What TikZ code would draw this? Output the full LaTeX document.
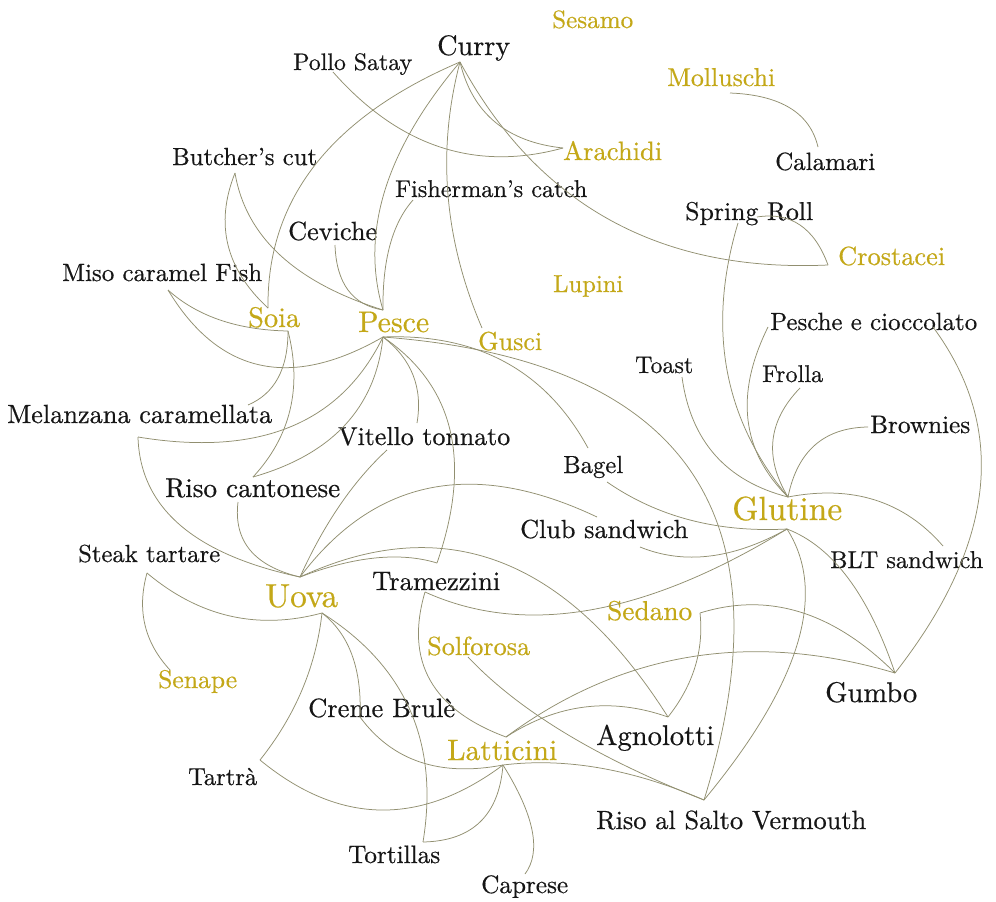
\documentclass[tikz,border=0pt]{standalone}
\usepackage{fontspec}
\setmainfont{Latin Modern Roman}[FakeBold=0.5]
\usepackage{graphicx}
\usetikzlibrary{calc}
\definecolor{edgecol}{RGB}{145,143,112}
\definecolor{goldc}{RGB}{196,168,24}
\definecolor{inkc}{RGB}{22,22,22}
\newcommand\lab[5]{\node[#1] (#2) at (#3) {\resizebox{#4pt}{!}{#5}};}
\newcommand\cedge[3]{\draw[edge] (#1) .. controls ($1.3333*(#3)-0.3333*(#2)$) and ($1.3333*(#3)-0.3333*(#1)$) .. (#2);}
\begin{document}
\begin{tikzpicture}[x=1pt,y=-1pt,
  ink/.style={text=inkc, inner sep=0pt, anchor=base west},
  gold/.style={text=goldc, inner sep=0pt, anchor=base west},
  edge/.style={draw=edgecol, line width=0.75pt}]
\useasboundingbox (0,0) rectangle (996,902);
\fill[white] (0,0) rectangle (996,902);

% labels
\lab{gold}{sesamoL}{552,28}{81}{Sesamo}
\lab{ink}{curryL}{437,55}{73}{Curry}
\lab{ink}{polloL}{293,70}{119}{Pollo Satay}
\lab{gold}{mollL}{667,86}{108}{Molluschi}
\lab{gold}{arachL}{563,160}{99}{Arachidi}
\lab{ink}{calamL}{775,170}{100}{Calamari}
\lab{ink}{butchL}{172,165}{145}{Butcher's cut}
\lab{ink}{fishL}{395,197}{192}{Fisherman's catch}
\lab{ink}{springL_}{685,220}{128}{Spring Roll}
\lab{gold}{crostL}{838,265}{107}{Crostacei}
\lab{ink}{ceviL}{288,240}{89}{Ceviche}
\lab{ink}{misoL}{62,281}{200}{Miso caramel Fish}
\lab{gold}{lupiniL}{553,292}{70}{Lupini}
\lab{gold}{soiaL}{248,327}{52}{Soia}
\lab{gold}{pesceL}{358,332}{71}{Pesce}
\lab{gold}{gusciL}{478,350}{64}{Gusci}
\lab{ink}{pescheL_}{770,330}{207}{Pesche e cioccolato}
\lab{ink}{toastL}{635,373}{58}{Toast}
\lab{ink}{frollaL}{762,382}{61}{Frolla}
\lab{ink}{brownL}{870,433}{100}{Brownies}
\lab{ink}{melL}{7,423}{265}{Melanzana caramellata}
\lab{ink}{vitL}{338,445}{172}{Vitello tonnato}
\lab{ink}{bagelL}{563,473}{60}{Bagel}
\lab{ink}{risoL}{165,497}{175}{Riso cantonese}
\lab{gold}{glutL}{732,520}{110}{Glutine}
\lab{ink}{clubL}{520,538}{168}{Club sandwich}
\lab{ink}{bltL}{830,568}{153}{BLT sandwich}
\lab{ink}{steakL}{78,562}{142}{Steak tartare}
\lab{gold}{uovaL}{265,607}{73}{Uova}
\lab{ink}{tramL}{372,590}{128}{Tramezzini}
\lab{gold}{sedanoL}{607,620}{85}{Sedano}
\lab{gold}{solfL}{427,655}{103}{Solforosa}
\lab{gold}{senapeL}{158,688}{79}{Senape}
\lab{ink}{gumboL}{825,702}{92}{Gumbo}
\lab{ink}{cremeL}{308,717}{147}{Creme Brulè}
\lab{ink}{agnoL}{596,745}{118}{Agnolotti}
\lab{gold}{lattL}{447,760}{110}{Latticini}
\lab{ink}{tartraL}{188,785}{69}{Tartrà}
\lab{ink}{risoSL}{596,829}{270}{Riso al Salto Vermouth}
\lab{ink}{tortL}{348,863}{92}{Tortillas}
\lab{ink}{capreseL}{481,893}{87}{Caprese}

% anchor points
\coordinate (curry) at (460,62);
\coordinate (pollo) at (333,72);
\coordinate (arach) at (563,148);
\coordinate (moll) at (730,93);
\coordinate (calam) at (818,147);
\coordinate (butch) at (235,173);
\coordinate (fish) at (413,200);
\coordinate (springR) at (757,217);
\coordinate (springL) at (738,223);
\coordinate (crost) at (828,265);
\coordinate (cevi) at (335,245);
\coordinate (miso) at (168,290);
\coordinate (soiaT) at (268,308);
\coordinate (soiaB) at (288,331);
\coordinate (pesceT) at (383,310);
\coordinate (pesceB) at (383,337);
\coordinate (gusci) at (482,328);
\coordinate (pescheL) at (768,327);
\coordinate (pescheR) at (933,327);
\coordinate (toast) at (682,377);
\coordinate (frolla) at (800,388);
\coordinate (brown) at (868,427);
\coordinate (melR) at (248,405);
\coordinate (melB) at (138,437);
\coordinate (vitT) at (417,423);
\coordinate (vitB) at (387,450);
\coordinate (bagel) at (588,448);
\coordinate (bagelB) at (607,482);
\coordinate (risoT) at (253,477);
\coordinate (risoB) at (238,502);
\coordinate (glutT) at (788,497);
\coordinate (glutB) at (787,529);
\coordinate (clubT) at (597,517);
\coordinate (clubB) at (640,547);
\coordinate (bltR) at (943,546);
\coordinate (steak) at (147,573);
\coordinate (uovaT) at (300,577);
\coordinate (uovaB) at (322,613);
\coordinate (tramT) at (437,563);
\coordinate (tramB) at (425,592);
\coordinate (sedano) at (700,613);
\coordinate (solf) at (468,657);
\coordinate (senape) at (170,670);
\coordinate (gumbo) at (895,673);
\coordinate (creme) at (360,717);
\coordinate (agno) at (668,717);
\coordinate (lattT) at (506,737);
\coordinate (lattB) at (503,765);
\coordinate (tartra) at (260,760);
\coordinate (risoS) at (704,800);
\coordinate (tort) at (423,842);
\coordinate (caprese) at (525,874);

% connectors
\cedge{curry}{arach}{495,122}
\cedge{curry}{crost}{610,220}
\cedge{pollo}{arach}{440,147}
\cedge{curry}{soiaT}{315,165}
\cedge{curry}{pesceT}{385,190}
\cedge{curry}{gusci}{448,195}
\cedge{butch}{soiaT}{228,245}
\cedge{butch}{pesceT}{280,255}
\cedge{cevi}{pesceT}{348,290}
\cedge{fish}{pesceT}{390,245}
\cedge{moll}{calam}{790,108}
\cedge{springR}{crost}{800,225}
\cedge{springL}{glutT}{727,370}
\cedge{pescheL}{glutT}{748,420}
\cedge{toast}{glutT}{715,455}
\cedge{frolla}{glutT}{773,440}
\cedge{brown}{glutT}{815,445}
\cedge{glutT}{bltR}{875,500}
\cedge{pescheR}{gumbo}{980,490}
\cedge{glutB}{gumbo}{848,578}
\cedge{sedano}{gumbo}{800,612}
\cedge{lattT}{gumbo}{690,657}
\cedge{sedano}{agno}{695,667}
\cedge{lattT}{agno}{585,707}
\cedge{uovaT}{agno}{500,562}
\cedge{uovaT}{tramT}{375,558}
\cedge{pesceB}{tramT}{450,430}
\cedge{tramB}{glutB}{590,610}
\cedge{tramB}{lattT}{430,680}
\cedge{solf}{risoS}{565,733}
\cedge{lattB}{risoS}{600,768}
\cedge{glutB}{risoS}{797,645}
\cedge{pesceB}{risoS}{690,470}
\cedge{pesceB}{bagel}{505,362}
\cedge{bagelB}{glutB}{690,520}
\cedge{uovaT}{clubT}{430,488}
\cedge{clubB}{glutB}{710,556}
\cedge{vitB}{uovaT}{340,505}
\cedge{pesceB}{vitT}{413,375}
\cedge{pesceB}{risoT}{345,425}
\cedge{soiaB}{risoT}{290,410}
\cedge{soiaB}{melR}{278,378}
\cedge{pesceB}{melB}{290,427}
\cedge{melB}{uovaT}{180,525}
\cedge{risoB}{uovaT}{250,550}
\cedge{miso}{soiaB}{220,320}
\cedge{miso}{pesceB}{260,365}
\cedge{steak}{uovaB}{230,616}
\cedge{steak}{senape}{145,625}
\cedge{uovaB}{tartra}{302,690}
\cedge{uovaB}{creme}{352,655}
\cedge{creme}{lattB}{420,762}
\cedge{uovaB}{tort}{410,710}
\cedge{tort}{lattB}{480,822}
\cedge{tartra}{lattB}{380,810}
\cedge{lattB}{caprese}{532,830}
\end{tikzpicture}
\end{document}
